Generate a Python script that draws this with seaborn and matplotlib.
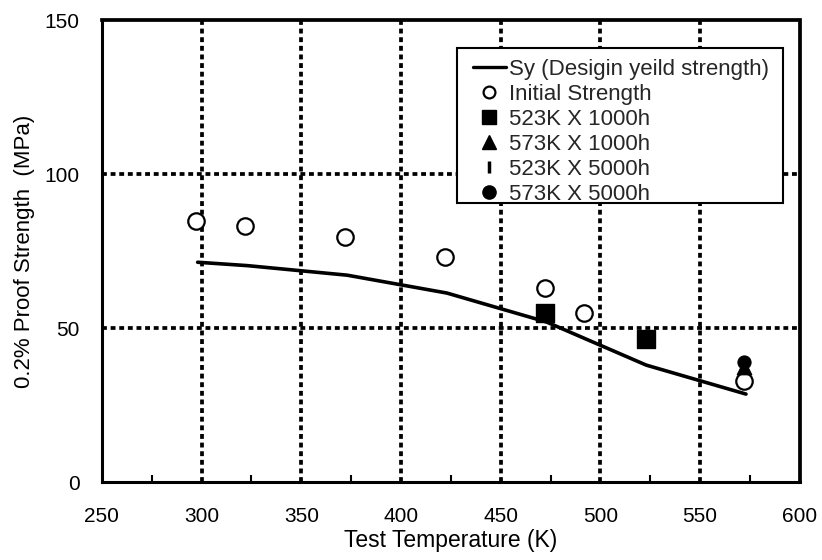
import matplotlib
matplotlib.use("Agg")
import matplotlib.pyplot as plt
from matplotlib.lines import Line2D
from matplotlib.patches import Rectangle
import seaborn as sns
import numpy as np

# ---- data ----
sy_temp = [298, 323, 373, 423, 473, 498, 523, 573]
sy_strength = [71.4, 70.3, 67.2, 61.4, 52.0, 45.0, 38.0, 28.6]

init_temp = [297, 322, 372, 422, 472, 492, 572]
init_strength = [84.7, 83.1, 79.5, 73.0, 63.0, 54.9, 33.0]

k523_1000_temp = [472, 523]
k523_1000_strength = [54.9, 46.4]

k573_1000_temp = [572]
k573_1000_strength = [37.5]

k523_5000_temp = [572]
k523_5000_strength = [38.0]

k573_5000_temp = [572]
k573_5000_strength = [39.0]

x_ticks = [250, 300, 350, 400, 450, 500, 550, 600]
y_ticks = [0, 50, 100, 150]
legend_labels = ["Sy (Desigin yeild strength)", "Initial Strength", "523K X 1000h",
                 "573K X 1000h", "523K X 5000h", "573K X 5000h"]

sns.set_theme(style="white")
plt.rcParams['font.family'] = ['Liberation Sans', 'DejaVu Sans']

fig = plt.figure(figsize=(8.22, 5.6), dpi=100)
ax = fig.add_axes([0.124, 0.139, 0.849, 0.825])

grid_style = dict(color="black", lw=2.7, linestyle=(0, (1.3, 1.0)), zorder=1)
for xv in x_ticks[1:-1]:
    ax.axvline(xv, **grid_style)
for yv in y_ticks[1:-1]:
    ax.axhline(yv, **grid_style)

sns.lineplot(x=sy_temp, y=sy_strength, ax=ax, color="black", lw=2.6, zorder=3, legend=False)
sns.scatterplot(x=init_temp, y=init_strength, ax=ax, marker="o", s=140,
                facecolor="white", edgecolor="black", linewidth=1.6, zorder=4, legend=False)
sns.scatterplot(x=k523_1000_temp, y=k523_1000_strength, ax=ax, marker="s", s=150,
                color="black", edgecolor="black", zorder=4, legend=False)
sns.scatterplot(x=k573_1000_temp, y=k573_1000_strength, ax=ax, marker="^", s=110,
                color="black", edgecolor="black", zorder=4, legend=False)
sns.scatterplot(x=k523_5000_temp, y=k523_5000_strength, ax=ax, marker="|", s=100,
                color="black", linewidth=2.5, zorder=4, legend=False)
sns.scatterplot(x=k573_5000_temp, y=k573_5000_strength, ax=ax, marker="o", s=90,
                color="black", edgecolor="black", zorder=5, legend=False)

ax.set_xlim(250, 600)
ax.set_ylim(0, 150)
ax.set_xticks(x_ticks)
ax.set_yticks(y_ticks)
ax.set_xticks(np.arange(275, 600, 50), minor=True)
ax.tick_params(axis="x", which="major", length=0, labelsize=15, pad=18, colors="black")
ax.tick_params(axis="y", which="major", length=0, labelsize=15, pad=16, colors="black")
ax.tick_params(axis="x", which="minor", direction="in", length=5, width=1.5, bottom=True, color="black")

for side in ["left", "bottom"]:
    ax.spines[side].set_color("black")
    ax.spines[side].set_linewidth(2.2)
for side in ["top", "right"]:
    ax.spines[side].set_color("black")
    ax.spines[side].set_linewidth(2.7)
    ax.spines[side].set_linestyle((0, (1.3, 1.0)))

ax.set_xlabel("Test Temperature (K)", fontsize=16.5, labelpad=2, color="black")
ax.set_ylabel("0.2% Proof Strength  (MPa)", fontsize=16, labelpad=7, color="black")

handles = [
    Line2D([], [], color="black", lw=2.4),
    Line2D([], [], marker="o", ls="", mfc="white", mec="black", ms=8.5, mew=1.6),
    Line2D([], [], marker="s", ls="", color="black", ms=10.5),
    Line2D([], [], marker="^", ls="", color="black", ms=10.5),
    Line2D([], [], marker="|", ls="", color="black", ms=9, mew=2.5),
    Line2D([], [], marker="o", ls="", color="black", ms=9.5),
]

box = Rectangle((0.5086, 0.604), 0.467, 0.3355, transform=ax.transAxes,
                facecolor="white", edgecolor="black", lw=1.5, zorder=6)
ax.add_patch(box)
leg = ax.legend(handles, legend_labels, loc="upper left", bbox_to_anchor=(0.531, 0.916),
                fontsize=16, frameon=False, handlelength=1.5, handletextpad=0.15,
                borderpad=0, labelspacing=0.18, borderaxespad=0)
leg.set_zorder(7)

fig.savefig("out.png", dpi=100)
